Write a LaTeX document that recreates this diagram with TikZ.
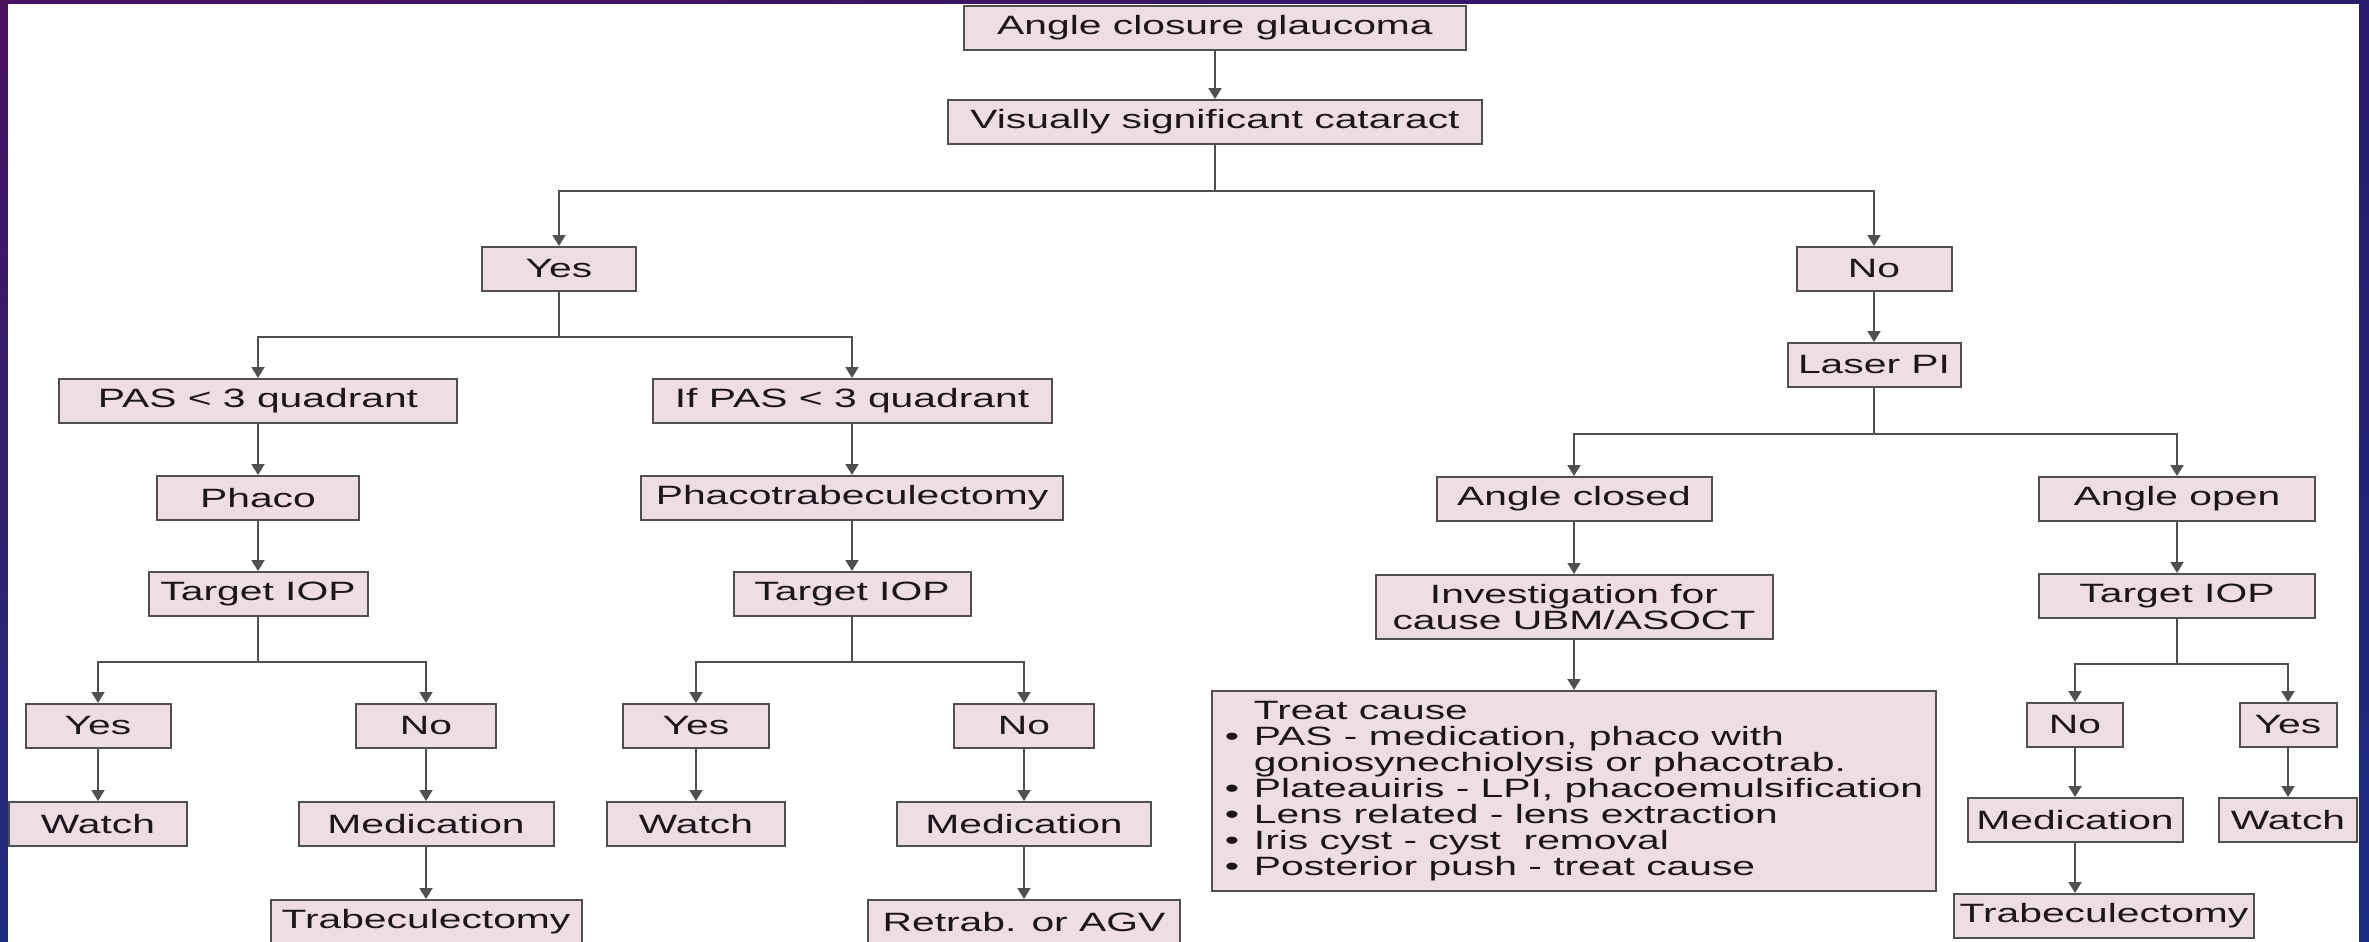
\documentclass[tikz,border=0pt]{standalone}
\usepackage{fontspec}
\setmainfont{Liberation Sans}[FakeStretch=1.54]
\usepackage{xcolor}
\usepackage{tikz}
\usetikzlibrary{arrows.meta, positioning, shadings}
\definecolor{boxpink}{RGB}{238, 222, 228}
\definecolor{boxedge}{RGB}{80, 80, 80}
\definecolor{inktext}{RGB}{28, 22, 28}
\definecolor{framepurple}{RGB}{74, 16, 96}
\definecolor{frameindigo}{RGB}{40, 26, 108}
\definecolor{frameblue}{RGB}{28, 44, 128}
\newcommand{\tbul}{\makebox[29pt][l]{\textbullet}}
\newcommand{\tind}{\hspace*{29pt}}

\begin{document}
\begin{tikzpicture}[
    x=1pt, y=-1pt,
    node distance=50pt,
    box/.style={rectangle, draw=boxedge, fill=boxpink, line width=2pt, minimum height=44pt, inner sep=2pt, text=inktext, text centered, font=\fontsize{26.5}{26}\selectfont},
    arrow/.style={-{Triangle[length=11pt, width=13pt]}, line width=2pt, draw=boxedge}
]

% frame
\useasboundingbox (0,0) rectangle (2369,942);
\shade[upper left=framepurple, upper right=frameindigo, lower left=frameblue, lower right=frameblue] (0,0) rectangle (2369,942);
\fill[white] (8,4) rectangle (2359,942);

% top
\node[box, minimum width=502pt] (acg) at (1215,28) {Angle closure glaucoma};
\node[box, minimum width=534pt, below=48pt of acg] (cataract) {Visually significant cataract};
\node[box, minimum width=154pt, below=101pt of cataract, xshift=-656pt] (yes) {Yes};
\node[box, minimum width=155pt, below=101pt of cataract, xshift=659pt] (no) {No};
\node[box, minimum width=173pt, below=of no] (laser) {Laser PI};

% cataract: yes
\node[box, minimum width=398pt, below=86pt of yes, xshift=-301pt] (pasA) {PAS < 3 quadrant};
\node[box, minimum width=399pt, below=86pt of yes, xshift=293pt] (pasB) {If PAS < 3 quadrant};
\node[box, minimum width=202pt, below=51pt of pasA] (phaco) {Phaco};
\node[box, minimum width=219pt, below=of phaco] (iopA) {Target IOP};
\node[box, minimum width=145pt, below=86pt of iopA, xshift=-160pt] (yesA) {Yes};
\node[box, minimum width=140pt, below=86pt of iopA, xshift=168pt] (noA) {No};
\node[box, minimum width=178pt, below=52pt of yesA] (watchA) {Watch};
\node[box, minimum width=255pt, below=52pt of noA] (medA) {Medication};
\node[box, minimum width=311pt, below=52pt of medA] (trabA) {Trabeculectomy};

\node[box, minimum width=422pt, below=51pt of pasB] (ptrab) {Phacotrabeculectomy};
\node[box, minimum width=237pt, below=of ptrab] (iopB) {Target IOP};
\node[box, minimum width=146pt, below=86pt of iopB, xshift=-156pt] (yesB) {Yes};
\node[box, minimum width=140pt, below=86pt of iopB, xshift=172pt] (noB) {No};
\node[box, minimum width=178pt, below=52pt of yesB] (watchB) {Watch};
\node[box, minimum width=254pt, below=52pt of noB] (medB) {Medication};
\node[box, minimum width=312pt, below=52pt of medB] (retrab) {Retrab. or AGV};

% cataract: no
\node[box, minimum width=275pt, below=88pt of laser, xshift=-300pt] (closed) {Angle closed};
\node[box, minimum width=276pt, below=88pt of laser, xshift=303pt] (open) {Angle open};
\node[box, minimum width=397pt, minimum height=64pt, align=center, below=52pt of closed] (invest) {Investigation for\\cause UBM/ASOCT};
\node[box, minimum width=724pt, minimum height=200pt, align=left, below=of invest] (treat) {%
  \tind Treat cause\\
  \tbul PAS - medication, phaco with\\
  \tind goniosynechiolysis or phacotrab.\\
  \tbul Plateauiris - LPI, phacoemulsification\\
  \tbul Lens related - lens extraction\\
  \tbul Iris cyst - cyst~~removal\\
  \tbul Posterior push - treat cause};
\node[box, minimum width=276pt, below=51pt of open] (iopC) {Target IOP};
\node[box, minimum width=96pt, below=83pt of iopC, xshift=-102pt] (noC) {No};
\node[box, minimum width=97pt, below=83pt of iopC, xshift=111pt] (yesC) {Yes};
\node[box, minimum width=215pt, below=49pt of noC] (medC) {Medication};
\node[box, minimum width=138pt, below=49pt of yesC] (watchC) {Watch};
\node[box, minimum width=300pt, below=of medC, xshift=29pt] (trabC) {Trabeculectomy};

% connectors
\draw[arrow] (acg) -- (cataract);
\draw[arrow] (cataract.south) -- ++(0,46) -| (yes.north);
\draw[arrow] (cataract.south) -- ++(0,46) -| (no.north);
\draw[arrow] (no) -- (laser);

\draw[arrow] (yes.south) -- ++(0,45) -| (pasA.north);
\draw[arrow] (yes.south) -- ++(0,45) -| (pasB.north);
\draw[arrow] (pasA) -- (phaco);
\draw[arrow] (phaco) -- (iopA);
\draw[arrow] (iopA.south) -- ++(0,45) -| (yesA.north);
\draw[arrow] (iopA.south) -- ++(0,45) -| (noA.north);
\draw[arrow] (yesA) -- (watchA);
\draw[arrow] (noA) -- (medA);
\draw[arrow] (medA) -- (trabA);

\draw[arrow] (pasB) -- (ptrab);
\draw[arrow] (ptrab) -- (iopB);
\draw[arrow] (iopB.south) -- ++(0,45) -| (yesB.north);
\draw[arrow] (iopB.south) -- ++(0,45) -| (noB.north);
\draw[arrow] (yesB) -- (watchB);
\draw[arrow] (noB) -- (medB);
\draw[arrow] (medB) -- (retrab);

\draw[arrow] (laser.south) -- ++(0,46) -| (closed.north);
\draw[arrow] (laser.south) -- ++(0,46) -| (open.north);
\draw[arrow] (closed) -- (invest);
\draw[arrow] (invest) -- (treat);
\draw[arrow] (open) -- (iopC);
\draw[arrow] (iopC.south) -- ++(0,45) -| (noC.north);
\draw[arrow] (iopC.south) -- ++(0,45) -| (yesC.north);
\draw[arrow] (noC) -- (medC);
\draw[arrow] (yesC) -- (watchC);
\draw[arrow] (medC.south) -- (medC.south |- trabC.north);

\end{tikzpicture}
\end{document}
